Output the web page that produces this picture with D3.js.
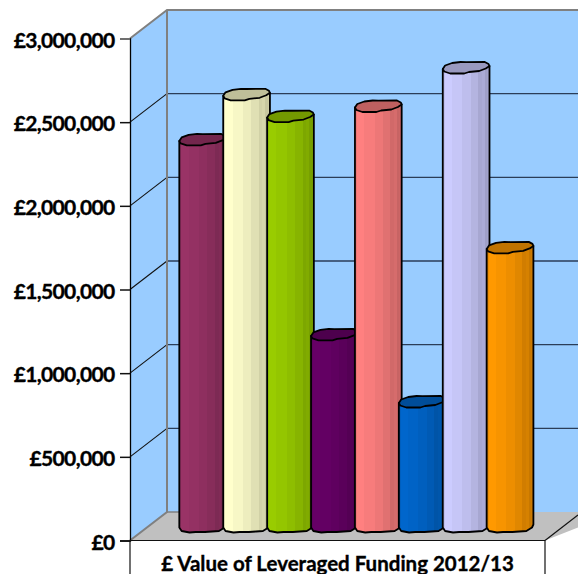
<!DOCTYPE html>
<html>
<head>
<meta charset="utf-8">
<script src="https://cdn.jsdelivr.net/npm/d3@7"></script>
<style>
  html, body { margin: 0; padding: 0; background: #fff; }
  svg { display: block; }
  text { font-family: Lato, "Open Sans", sans-serif; font-weight: 700; fill: #000; stroke: #000; stroke-width: 0.35px; }
</style>
</head>
<body>
<svg id="chart" width="578" height="574"></svg>
<script>
// Leveraged funding per scheme, in pounds
const categories = ["A", "B", "C", "D", "E", "F", "G", "H"];
const funding = [2310000, 2580000, 2450000, 1145000, 2510000, 744000, 2740000, 1665000];
const barColors = ["#993366", "#ffffcc", "#99cc00", "#660066", "#ff8080", "#0066cc", "#ccccff", "#ff9900"];
const tickValues = [0, 500000, 1000000, 1500000, 2000000, 2500000, 3000000];
const axisTitle = "£ Value of Leveraged Funding 2012/13";

const W = 578, H = 574;
const svg = d3.select("#chart");

// Projection of the 3D box: front plane plus a fixed depth shift
const y = d3.scaleLinear().domain([0, 3000000]).range([540.5, 38.5]);
const frontLeft = 130, frontRight = 545;
const depthX = 37, depthY = 28.5;
const barShift = 14;
const x = d3.scaleBand().domain(categories).range([179.3, 530.6]);
const barWidth = x.bandwidth() * 1.064;

// Walls and floor
const wallTop = y(3000000) - depthY, wallBottom = y(0) - depthY;
svg.append("rect").attr("x", frontLeft + depthX).attr("y", wallTop)
  .attr("width", W).attr("height", wallBottom - wallTop).attr("fill", "#99ccff");
svg.append("path").attr("fill", "#99ccff")
  .attr("d", d3.line()([[frontLeft, y(3000000)], [frontLeft + depthX, wallTop], [frontLeft + depthX, wallBottom], [frontLeft, y(0)]]));
svg.append("path").attr("fill", "#c0c0c0")
  .attr("d", d3.line()([[frontLeft, y(0)], [frontLeft + depthX, wallBottom], [W + 40, wallBottom], [frontRight, y(0)]]));

// Gridlines across the back wall and down the side wall
const grid = svg.append("g").attr("fill", "none");
tickValues.filter(v => v > 0 && v < 3000000).forEach(v => {
  grid.append("path").attr("stroke", "#2b3d58").attr("stroke-width", 1.3)
    .attr("d", d3.line()([[frontLeft + depthX, y(v) - depthY], [W, y(v) - depthY]]));
  grid.append("path").attr("stroke", "#111").attr("stroke-width", 1.1)
    .attr("d", d3.line()([[frontLeft, y(v)], [frontLeft + depthX, y(v) - depthY]]));
});
grid.append("path").attr("stroke", "#808080").attr("stroke-width", 2)
  .attr("d", d3.line()([[frontLeft, y(3000000)], [frontLeft + depthX, wallTop], [W, wallTop]]));
grid.append("path").attr("stroke", "#808080").attr("stroke-width", 2)
  .attr("d", d3.line()([[frontLeft + depthX, wallTop], [frontLeft + depthX, wallBottom], [frontLeft, y(0)]]));
grid.append("path").attr("stroke", "#808080").attr("stroke-width", 1.5)
  .attr("d", d3.line()([[frontLeft + depthX, wallBottom], [frontLeft + depthX + 13, wallBottom]]));

// Faceted shading across each cylinder
const shadeSteps = [[0, .93], [.04, 1], [.2, .97], [.42, .93], [.6, .88], [.76, .82], [.84, .84], [.9, .78], [.95, .8], [1, .72]];
const defs = svg.append("defs");
const shade = (c, k) => { const r = d3.rgb(c); return d3.rgb(r.r * k, r.g * k, r.b * k).formatHex(); };
barColors.forEach((c, i) => {
  const g = defs.append("linearGradient").attr("id", "facet" + i);
  shadeSteps.forEach((s, j) => {
    g.append("stop").attr("offset", s[0]).attr("stop-color", shade(c, s[1]));
    if (j < shadeSteps.length - 1) g.append("stop").attr("offset", shadeSteps[j + 1][0]).attr("stop-color", shade(c, s[1]));
  });
});

// Faceted cap and foot outlines: fraction of bar width, pixel offset from the bar's end centre
const capBack = [[0, 1], [.05, -2.5], [.2, -5], [.38, -6], [.5, -5.8], [.9, -6], [.98, -4], [1, -2]];
const capFront = [[1, -2], [.92, .5], [.78, 3], [.56, 4], [.46, 5.5], [.16, 5.5], [.03, 3.5], [0, 1]];
const footFront = [[1, -2], [.97, 1], [.85, 4.5], [.7, 5], [.55, 5.5], [.35, 5.5], [.22, 6], [.05, 4.5], [0, 1]];

const outline = (pts, left, cy) => pts.map(p => [left + p[0] * barWidth, cy + p[1]]);
const link = d3.line();

const bars = svg.append("g").selectAll("g").data(categories).join("g");
bars.each(function (cat, i) {
  const left = x(cat);
  const top = y(funding[i]) - barShift;
  const base = y(0) - barShift;
  const g = d3.select(this);
  const body = [
    ...outline([[0, 1]], left, top),
    ...outline(footFront.slice().reverse(), left, base),
    ...outline([[1, -2]], left, top)
  ];
  g.append("path").attr("d", link(body) + "Z")
    .attr("fill", `url(#facet${i})`).attr("stroke", "#000")
    .attr("stroke-width", 1.8).attr("stroke-linejoin", "round");
  g.append("path").attr("d", link([...outline(capBack, left, top), ...outline(capFront, left, top)]) + "Z")
    .attr("fill", shade(barColors[i], .75)).attr("stroke", "#000")
    .attr("stroke-width", 1.8).attr("stroke-linejoin", "round");
});

// Value axis on the front-left edge
const axis = d3.axisLeft(y).tickValues(tickValues).tickSize(10)
  .tickFormat(v => "£" + d3.format(",")(v));
const axisG = svg.append("g").attr("transform", `translate(${frontLeft},0)`).call(axis);
axisG.select(".domain").attr("stroke", "#000").attr("stroke-width", 1.3);
axisG.selectAll(".tick line").attr("stroke", d => d === 3000000 ? "#808080" : "#111").attr("stroke-width", 1.5);
axisG.selectAll(".tick text").attr("font-size", 21).attr("x", -15.5).attr("dy", "0.42em")
  .attr("letter-spacing", "-0.65").attr("font-family", "Lato, sans-serif");

// Category baseline box holding the axis title
const box = svg.append("g").attr("fill", "none").attr("stroke", "#111").attr("stroke-width", 1.2);
box.append("path").attr("d", d3.line()([[frontLeft, y(0)], [frontRight, y(0)]]));
box.append("path").attr("d", d3.line()([[frontLeft, y(0)], [frontLeft, H]]));
box.append("path").attr("d", d3.line()([[frontRight, y(0)], [frontRight, H]]));
box.append("path").attr("d", d3.line()([[frontRight, y(0)], [W, y(0) - 33 * depthY / depthX]]));

svg.append("text").attr("x", 337.5).attr("y", 571).attr("text-anchor", "middle")
  .attr("font-size", 20.5).text(axisTitle);
</script>
</body>
</html>
